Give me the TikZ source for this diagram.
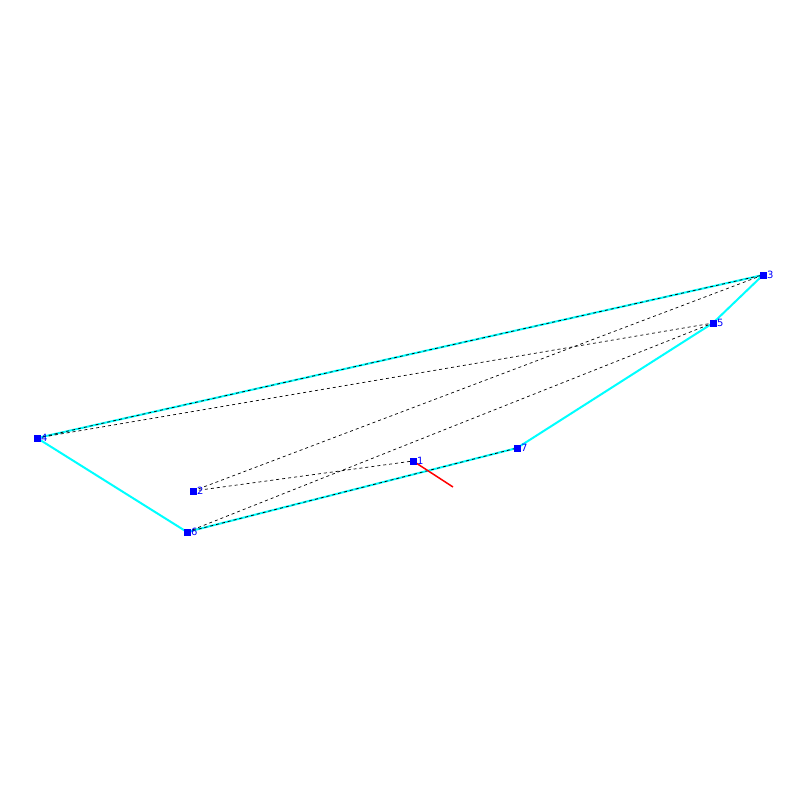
\documentclass[tikz,border=0pt]{standalone}
\usepackage{fontspec}
\setmainfont{DejaVu Sans}
\definecolor{aqua}{RGB}{0,255,255}
\definecolor{pblue}{RGB}{0,0,255}
\definecolor{pred}{RGB}{255,0,0}
\begin{document}
\begin{tikzpicture}[x=1pt,y=-1pt,
  pt/.style={fill=pblue,inner sep=0pt,minimum size=7pt,draw=none},
  lbl/.style={text=pblue,font=\fontsize{10}{10}\selectfont,inner sep=0pt,anchor=west},
  hull/.style={aqua,line width=2pt},
  dsh/.style={black,line width=0.7pt,dash pattern=on 3pt off 3pt},
  redline/.style={pred,line width=1.5pt}]
\useasboundingbox (0,0) rectangle (800,800);
\node[pt] (n1) at (413,461) {};
\node[pt] (n2) at (193,491) {};
\node[pt] (n3) at (763,275) {};
\node[pt] (n4) at (37,438) {};
\node[pt] (n5) at (713,323) {};
\node[pt] (n6) at (187,532) {};
\node[pt] (n7) at (517,448) {};
\coordinate (r) at (453,487);
\draw[hull] (n4.center) -- (n3.center) -- (n5.center) -- (n7.center) -- (n6.center) -- (n4.center);
\draw[dsh] (n4.center) -- (n3.center);
\draw[dsh] (n4.center) -- (n5.center);
\draw[dsh] (n2.center) -- (n3.center);
\draw[dsh] (n2.center) -- (n1.center);
\draw[dsh] (n6.center) -- (n5.center);
\draw[dsh] (n6.center) -- (n7.center);
\draw[redline] (n1.center) -- (r);
\foreach \n in {1,...,7}{\node[pt] at (n\n) {};}
\node[lbl] at ([xshift=4pt]n1.center) {1};
\node[lbl] at ([xshift=4pt]n2.center) {2};
\node[lbl] at ([xshift=4pt]n3.center) {3};
\node[lbl] at ([xshift=4pt]n4.center) {4};
\node[lbl] at ([xshift=4pt]n5.center) {5};
\node[lbl] at ([xshift=4pt]n6.center) {6};
\node[lbl] at ([xshift=4pt]n7.center) {7};
\end{tikzpicture}
\end{document}
